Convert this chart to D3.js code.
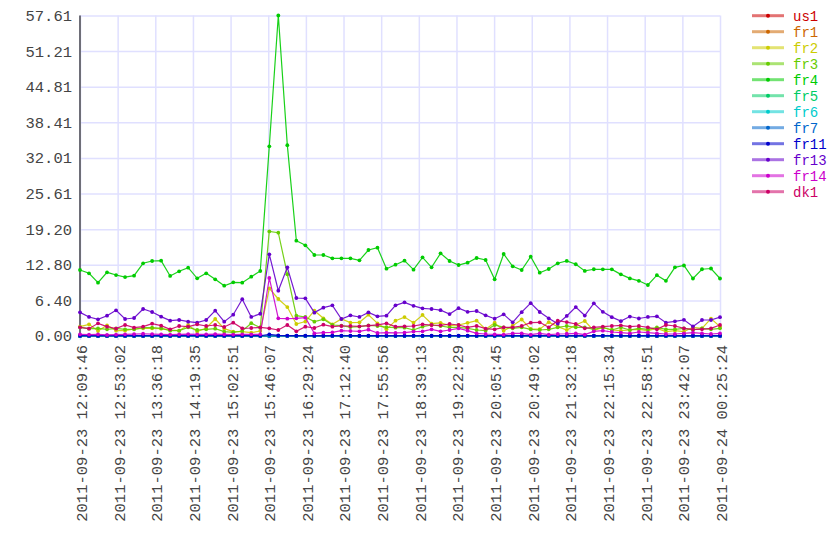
<!DOCTYPE html>
<html><head><meta charset="utf-8">
<script src="https://cdn.jsdelivr.net/npm/d3@7"></script>
<style>
body{margin:0;background:#fff}
text{font-family:"Liberation Mono","DejaVu Sans Mono",monospace}
</style>
</head><body>
<svg id="chart" width="840" height="560"></svg>
<script>
const timeLabels = ["2011-09-23 12:09:46","2011-09-23 12:53:02","2011-09-23 13:36:18","2011-09-23 14:19:35","2011-09-23 15:02:51","2011-09-23 15:46:07","2011-09-23 16:29:24","2011-09-23 17:12:40","2011-09-23 17:55:56","2011-09-23 18:39:13","2011-09-23 19:22:29","2011-09-23 20:05:45","2011-09-23 20:49:02","2011-09-23 21:32:18","2011-09-23 22:15:34","2011-09-23 22:58:51","2011-09-23 23:42:07","2011-09-24 00:25:24"];
const yTickLabels = ["0.00","6.40","12.80","19.20","25.61","32.01","38.41","44.81","51.21","57.61"];
const yMax = 57.61;
const seriesNames = ["us1","fr1","fr2","fr3","fr4","fr5","fr6","fr7","fr11","fr13","fr14","dk1"];
const seriesColors = ["#cc0000","#cc6600","#cccc00","#66cc00","#00cc00","#00cc66","#00cccc","#0066cc","#0000cc","#6600cc","#cc00cc","#cc0066"];

const us1 = [0,0,0,0,0,0,0,0,0,0,0,0,0,0,0,0,0,0,0,0,0,0,0,0,0,0,0,0,0,0,0,0,0,0,0,0,0,0,0,0,0,0,0,0,0,0,0,0,0,0,0,0,0,0,0,0,0,0,0,0,0,0,0,0,0,0,0,0,0,0,0,0];
const fr1 = [0,0,0,0,0,0,0,0,0,0,0,0,0,0,0,0,0,0,0,0,0,0,0,0,0,0,0,0,0,0,0,0,0,0,0,0,0,0,0,0,0,0,0,0,0,0,0,0,0,0,0,0,0,0,0,0,0,0,0,0,0,0,0,0,0,0,0,0,0,0,0,0];
const fr2 = [1.68,2.1,0.9,1.92,0.96,0.96,1.26,1.38,1.38,1.32,1.08,0.96,1.98,0.78,1.44,3.06,1.32,0.78,0.8,0.6,0.9,8.57,6.65,5.2,2.16,2.6,4.55,3.18,2.1,3.06,2.4,2.46,3.83,2.28,1.2,2.76,3.4,2.4,3.78,2.22,2.37,1.86,1.98,2.37,2.76,1.23,2.4,0.93,1.86,2.97,1.29,1.23,2.49,1.68,1.08,1.98,2.7,0.96,1.56,1.08,0.96,1.08,1.2,0.96,1.38,0.78,0.96,0.78,1.56,1.38,3.12,1.68];
const fr3 = [1.56,1.32,1.38,1.2,1.38,1.2,1.2,1.5,1.5,1.38,0.96,0.96,1.56,1.08,1.2,1.32,0.78,0.66,0.9,2.3,1.5,18.8,18.57,11.1,3.65,3.42,2.58,3.0,1.98,1.86,1.6,1.7,1.9,1.8,1.6,1.5,1.5,1.08,1.68,1.98,1.8,1.56,1.56,1.38,1.08,0.96,1.98,1.56,1.38,1.56,1.2,1.08,1.2,1.56,1.8,1.56,1.56,1.2,1.56,1.08,1.56,1.08,1.38,1.2,1.56,1.2,1.2,1.38,1.08,1.38,1.2,1.38];
const fr4 = [11.86,11.27,9.59,11.45,10.96,10.6,10.84,13.07,13.48,13.54,10.79,11.63,12.28,10.37,11.27,10.19,9.04,9.65,9.59,10.66,11.68,34.1,57.61,34.3,17.13,16.3,14.56,14.56,13.96,13.96,13.96,13.6,15.46,15.88,12.1,12.82,13.54,11.93,14.14,12.34,14.86,13.48,12.76,13.18,14.02,13.66,10.19,14.74,12.52,11.86,14.26,11.38,12.04,13.07,13.5,12.9,11.7,12.0,11.98,11.98,11.08,10.35,9.92,9.17,10.93,9.92,12.34,12.67,10.34,12.0,12.13,10.34];
const fr5 = [0,0,0,0,0,0,0,0,0,0,0,0,0,0,0,0,0,0,0,0,0,0,0,0,0,0,0,0,0,0,0,0,0,0,0,0,0,0,0,0,0,0,0,0,0,0,0,0,0,0,0,0,0,0,0,0,0,0,0,0,0,0,0,0,0,0,0,0,0,0,0,0];
const fr6 = [0,0,0,0,0,0,0,0,0,0,0,0,0,0,0,0,0,0,0,0,0,0,0,0,0,0,0,0,0,0,0,0,0,0,0,0,0,0,0,0,0,0,0,0,0,0,0,0,0,0,0,0,0,0,0,0,0,0,0,0,0,0,0,0,0,0,0,0,0,0,0,0];
const fr7 = [0,0,0,0,0,0,0,0,0,0,0,0,0,0,0,0,0,0,0,0,0,0,0,0,0,0,0,0,0,0,0,0,0,0,0,0,0,0,0,0,0,0,0,0,0,0,0,0,0,0,0,0,0,0,0,0,0,0,0,0,0,0,0,0,0,0,0,0,0,0,0,0];
const fr11 = [0.05,0.05,0.05,0.05,0.05,0.05,0.05,0.05,0.05,0.05,0.05,0.05,0.05,0.05,0.05,0.05,0.05,0.05,0.05,0.05,0.05,0.3,0.1,0.05,0.05,0.05,0.05,0.05,0.05,0.05,0.05,0.05,0.05,0.05,0.05,0.05,0.05,0.05,0.05,0.05,0.05,0.05,0.05,0.05,0.05,0.05,0.05,0.05,0.05,0.05,0.05,0.05,0.05,0.05,0.05,0.05,0.05,0.05,0.05,0.05,0.05,0.05,0.05,0.05,0.05,0.05,0.05,0.05,0.05,0.05,0.05,0.05];
const fr13 = [4.25,3.42,3.0,3.65,4.62,3.06,3.24,4.85,4.31,3.48,2.76,2.88,2.58,2.4,2.88,4.55,2.58,3.83,6.62,3.42,4.0,14.68,8.15,12.34,6.83,6.77,4.2,5.09,5.51,3.06,3.71,3.42,4.25,3.53,3.65,5.51,6.05,5.42,4.97,4.85,4.64,3.95,5.0,4.34,4.49,3.71,3.11,3.89,2.46,4.28,5.9,4.31,3.18,2.22,3.6,5.2,3.68,5.87,4.34,3.39,2.67,3.5,3.15,3.42,3.54,2.4,2.64,2.91,1.71,2.88,2.88,3.39];
const fr14 = [0.3,0.25,0.3,0.2,0.25,0.3,0.35,0.4,0.35,0.3,0.25,0.3,0.35,0.3,0.3,0.35,0.3,0.25,0.3,0.3,0.3,10.43,3.18,3.12,3.18,3.3,0.48,0.6,0.66,0.96,0.9,0.84,1.14,0.54,0.6,0.55,0.6,0.8,0.84,1.2,0.84,1.08,1.38,0.96,0.48,0.36,0.3,0.24,0.48,0.48,0.24,0.48,0.24,0.36,0.4,0.48,0.24,0.84,0.96,0.72,0.6,0.48,0.72,0.6,0.48,0.36,0.36,0.48,0.6,0.48,0.36,0.48];
const dk1 = [1.56,1.32,2.28,1.68,1.32,1.98,1.5,1.68,2.22,1.86,1.2,1.8,1.68,2.1,1.8,1.98,1.62,2.4,1.38,1.44,1.56,1.38,1.08,1.98,0.84,1.68,1.44,2.04,1.68,1.8,1.8,1.74,1.86,2.0,2.28,1.68,1.74,1.8,2.1,1.98,1.92,2.16,1.98,1.56,1.8,1.32,1.2,1.56,1.56,1.8,2.4,2.46,1.56,2.76,2.5,2.16,1.38,1.56,1.68,1.8,1.92,1.68,1.8,1.56,1.2,1.98,1.8,1.38,1.2,1.2,1.38,1.98];

const seriesValues = [us1,fr1,fr2,fr3,fr4,fr5,fr6,fr7,fr11,fr13,fr14,dk1];

const svg = d3.select("#chart");
const plotLeft = 80, plotRight = 720, plotTop = 15.5, plotBottom = 336;

const x = d3.scaleLinear().domain([0, fr4.length - 1]).range([plotLeft, plotRight]);
const xt = d3.scaleLinear().domain([0, timeLabels.length - 1]).range([plotLeft, plotRight]);
const y = d3.scaleLinear().domain([0, yMax]).range([plotBottom, plotTop]);

// vertical grid + x labels
const gx = svg.append("g").attr("transform", `translate(0,${plotBottom})`)
  .call(d3.axisBottom(xt).tickValues(d3.range(timeLabels.length)).tickFormat(i => timeLabels[i])
    .tickSize(-(plotBottom - plotTop)).tickSizeOuter(0));
gx.select(".domain").remove();
gx.selectAll(".tick line").attr("stroke", "#e0e0ff").attr("stroke-width", 1.5).attr("y1", 4);
gx.selectAll(".tick text")
  .attr("transform", "rotate(-90)")
  .attr("text-anchor", "end")
  .attr("x", -9).attr("y", 1).attr("dy", "0.35em")
  .attr("fill", "#444").style("font-size", "15.5px")
  .style("font-family", '"Liberation Mono", monospace');

// horizontal grid + y labels
const gy = svg.append("g").attr("transform", `translate(${plotLeft},0)`)
  .call(d3.axisLeft(y).tickValues(yTickLabels.map(Number)).tickFormat((d, i) => yTickLabels[i])
    .tickSize(-(plotRight - plotLeft)).tickSizeOuter(0).tickPadding(8));
gy.select(".domain").remove();
gy.selectAll(".tick line").attr("stroke", "#e0e0ff").attr("stroke-width", 1.5);
gy.selectAll(".tick text").attr("fill", "#444").style("font-size", "15.5px")
  .style("font-family", '"Liberation Mono", monospace');

// y axis line
svg.append("line").attr("x1", plotLeft).attr("x2", plotLeft).attr("y1", plotTop).attr("y2", plotBottom)
  .attr("stroke", "#6e6e78").attr("stroke-width", 2);

// series
const line = d3.line().x((d, i) => x(i)).y(d => y(d));
seriesValues.forEach((vals, k) => {
  const g = svg.append("g");
  g.append("path").datum(vals).attr("d", line).attr("fill", "none")
    .attr("stroke", seriesColors[k]).attr("stroke-width", 1.2).attr("stroke-opacity", 0.9);
  g.selectAll("circle").data(vals).join("circle")
    .attr("cx", (d, i) => x(i)).attr("cy", d => y(d)).attr("r", 1.9)
    .attr("fill", seriesColors[k]);
});

// legend
const lg = svg.append("g");
seriesNames.forEach((name, k) => {
  const ly = 15.7 + k * 16;
  lg.append("line").attr("x1", 752).attr("x2", 784).attr("y1", ly).attr("y2", ly)
    .attr("stroke", seriesColors[k]).attr("stroke-width", 3).attr("stroke-opacity", 0.55);
  lg.append("circle").attr("cx", 768).attr("cy", ly).attr("r", 2).attr("fill", seriesColors[k]);
  lg.append("text").attr("x", 793).attr("y", ly).attr("dy", "0.35em")
    .attr("fill", seriesColors[k]).style("font-size", "14px").text(name);
});
</script>
</body></html>
